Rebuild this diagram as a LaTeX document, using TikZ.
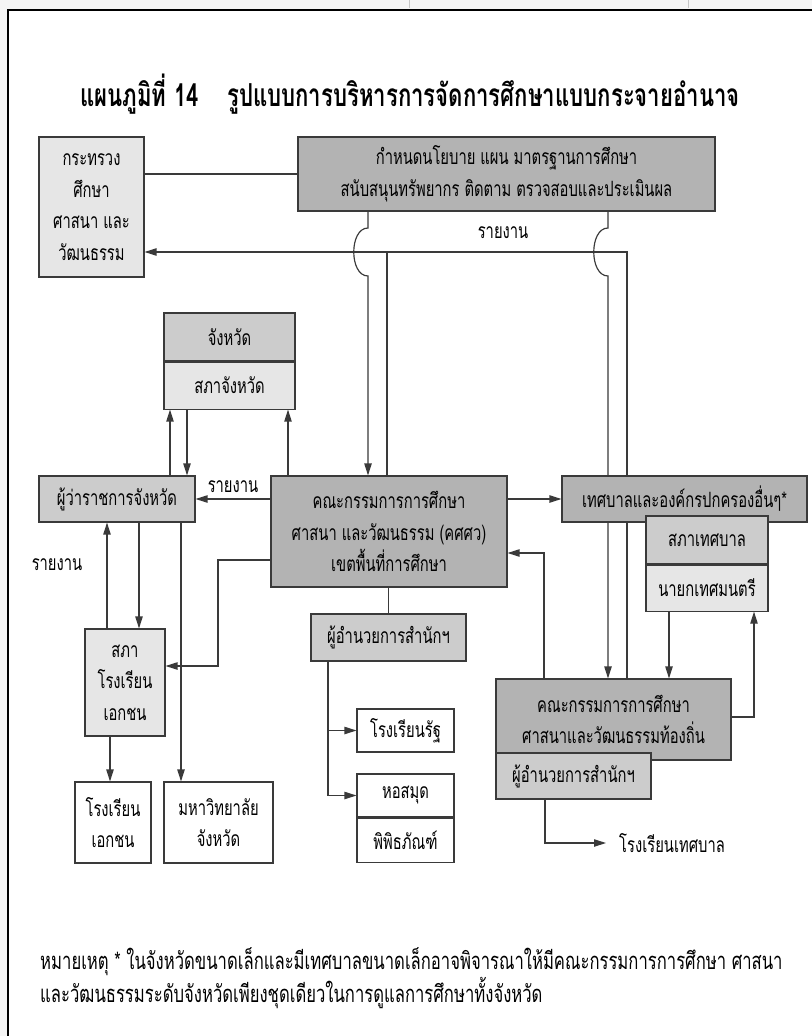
\documentclass[tikz,border=0pt]{standalone}
\usepackage{fontspec}
\newfontfamily\thaifont[Script=Thai,FakeStretch=0.7]{Loma}
\usetikzlibrary{positioning}
\usetikzlibrary{arrows.meta}
\usetikzlibrary{calc}
\newlength\px
\setlength\px{0.3mm}
\definecolor{fillDark}{HTML}{B3B3B3}
\definecolor{fillMid}{HTML}{CCCCCC}
\definecolor{fillLight}{HTML}{E6E6E6}
\definecolor{lineGray}{HTML}{3A3A3A}
\newcommand{\bodyFont}{\thaifont\fontsize{18}{27}\selectfont}
\newcommand{\noteFont}{\thaifont\fontsize{20.3}{26}\selectfont}
\newcommand{\titleFont}{\thaifont\bfseries\fontsize{27}{30}\selectfont}
\pgfdeclarelayer{frameLayer}
\pgfdeclarelayer{lineLayer}
\pgfsetlayers{frameLayer,lineLayer,main}
\tikzset{
   boxPlain/.style={draw=lineGray, line width=0.9pt, align=center, inner sep=0pt, font=\bodyFont},
   boxDark/.style={boxPlain, fill=fillDark},
   boxMid/.style={boxPlain, fill=fillMid},
   boxLight/.style={boxPlain, fill=fillLight},
   boxWhite/.style={boxPlain, fill=white},
   labelText/.style={inner sep=0pt, font=\bodyFont},
   linePlain/.style={draw=lineGray, line width=1pt},
   lineWithArrow/.style={linePlain, -{Triangle[length=3.6mm, width=2.2mm]}},
}

\begin{document}
\begin{tikzpicture}[x=0.3mm, y=-0.3mm]
  \useasboundingbox (0,0) rectangle (812,1036);
  %
  \begin{pgfonlayer}{frameLayer}
    \fill[gray!8] (0,0) rectangle (812,1036);
    \fill[white] (8,10) rectangle (812,1036);
    \draw[gray!45] (409,0) -- (409,8);
    \draw[gray!45] (688,0) -- (688,8);
    \draw[line width=2.5pt] (8,1036) -- (8,10) -- (812,10);
  \end{pgfonlayer}
  %
  \node[font=\titleFont] (title) at (410,94) {แผนภูมิที่ 14\hspace{0.9em}รูปแบบการบริหารการจัดการศึกษาแบบกระจายอำนาจ};
  %
  \node[boxLight, minimum width=105\px, minimum height=140\px] (ministry) at (91.5,207) {กระทรวง\\ศึกษา\\ศาสนา และ\\วัฒนธรรม};
  \node[boxDark, minimum width=417\px, minimum height=74\px] (policy) at (506.5,174) {กำหนดนโยบาย แผน มาตรฐานการศึกษา\\สนับสนุนทรัพยากร ติดตาม ตรวจสอบและประเมินผล};
  %
  \node[boxMid, minimum width=131\px, minimum height=48\px] (province) at (229.5,337) {จังหวัด};
  \node[boxLight, minimum width=131\px, minimum height=47\px, below=0pt of province] (provCouncil) {สภาจังหวัด};
  \node[boxMid, minimum width=156\px, minimum height=46\px] (governor) at (117,499) {ผู้ว่าราชการจังหวัด};
  \node[boxDark, minimum width=236\px, minimum height=111\px] (central) at (389,531.5) {คณะกรรมการการศึกษา\\ศาสนา และวัฒนธรรม (คศศว)\\เขตพื้นที่การศึกษา};
  \node[boxDark, minimum width=245\px, minimum height=46\px] (municipal) at (684.5,499) {เทศบาลและองค์กรปกครองอื่นๆ*};
  \node[boxMid, minimum width=122\px, minimum height=48\px] (munCouncil) at (707,540) {สภาเทศบาล};
  \node[boxLight, minimum width=122\px, minimum height=46\px, below=0pt of munCouncil] (mayor) {นายกเทศมนตรี};
  %
  \node[boxMid, minimum width=155\px, minimum height=47\px] (director) at (388.5,637.5) {ผู้อำนวยการสำนักฯ};
  \node[boxLight, minimum width=80\px, minimum height=107\px] (schoolCouncil) at (125,682.5) {สภา\\โรงเรียน\\เอกชน};
  \node[boxDark, minimum width=235\px, minimum height=81\px] (localComm) at (613.5,719.5) {คณะกรรมการการศึกษา\\ศาสนาและวัฒนธรรมท้องถิ่น};
  \node[boxMid, minimum width=155\px, minimum height=46\px] (localDir) at (573.5,776) {ผู้อำนวยการสำนักฯ};
  %
  \node[boxWhite, minimum width=97\px, minimum height=43\px] (stateSchool) at (405.5,730.5) {โรงเรียนรัฐ};
  \node[boxWhite, minimum width=97\px, minimum height=43\px] (library) at (405.5,795.5) {หอสมุด};
  \node[boxWhite, minimum width=97\px, minimum height=44\px, below=0pt of library] (museum) {พิพิธภัณฑ์};
  \node[boxWhite, minimum width=76\px, minimum height=81\px] (privSchool) at (113,822.5) {โรงเรียน\\เอกชน};
  \node[boxWhite, minimum width=109\px, minimum height=81\px] (university) at (218.5,822.5) {มหาวิทยาลัย\\จังหวัด};
  \node[labelText, inner xsep=13\px, anchor=west] (munSchool) at (606,843) {โรงเรียนเทศบาล};
  %
  \node[labelText] (reportTop) at (503,233) {รายงาน};
  \node[labelText] (reportGov) at (233,487) {รายงาน};
  \node[labelText] (reportSchool) at (57,565) {รายงาน};
  %
  \node[labelText, font=\noteFont, align=left, anchor=west] (footNote) at (40,978) {หมายเหตุ * ในจังหวัดขนาดเล็กและมีเทศบาลขนาดเล็กอาจพิจารณาให้มีคณะกรรมการการศึกษา ศาสนา\\และวัฒนธรรมระดับจังหวัดเพียงชุดเดียวในการดูแลการศึกษาทั้งจังหวัด};
  %
  \begin{pgfonlayer}{lineLayer}
    \draw[linePlain] (ministry.east |- policy.west) -- (policy.west);
    %
    % reports back to the ministry
    \coordinate (reportRight) at (627,252);
    \coordinate (reportLeft) at (387,252);
    \draw[lineWithArrow] (localComm.north -| reportRight) -- (reportRight) -- (ministry.east |- reportRight);
    \draw[linePlain] (central.north -| reportLeft) -- (reportLeft);
    %
    % policy lines hop over the report line
    \coordinate (jumpLeft) at (368,252);
    \coordinate (jumpRight) at (608,252);
    \draw[lineWithArrow] (policy.south -| jumpLeft) -- ($(jumpLeft)+(0,-24)$) .. controls +(-19,0) and +(-19,0) .. ($(jumpLeft)+(0,24)$) -- (central.north -| jumpLeft);
    \draw[lineWithArrow] (policy.south -| jumpRight) -- ($(jumpRight)+(0,-24)$) .. controls +(-19,0) and +(-19,0) .. ($(jumpRight)+(0,24)$) -- (localComm.north -| jumpRight);
    %
    \draw[lineWithArrow] (central.west |- governor.east) -- (governor.east);
    \draw[lineWithArrow] (governor.north -| 170,0) -- (provCouncil.south -| 170,0);
    \draw[lineWithArrow] (provCouncil.south -| 187,0) -- (governor.north -| 187,0);
    \draw[lineWithArrow] (central.north -| 288,0) -- (provCouncil.south -| 288,0);
    %
    \draw[lineWithArrow] (governor.south -| 139,0) -- (schoolCouncil.north -| 139,0);
    \draw[lineWithArrow] (schoolCouncil.north -| 107,0) -- (governor.south -| 107,0);
    \draw[lineWithArrow] (governor.south -| 181,0) -- (university.north -| 181,0);
    \draw[lineWithArrow] (schoolCouncil.south -| 110,0) -- (privSchool.north -| 110,0);
    \draw[lineWithArrow] (central.west |- 0,560) -| (218,666) -- (schoolCouncil.east |- 0,666);
    %
    \draw[lineWithArrow] (central.east |- municipal.west) -- (municipal.west);
    \draw[lineWithArrow] (localComm.north -| 544,0) |- (central.east |- 0,553);
    \draw[lineWithArrow] (mayor.south -| 669,0) -- (localComm.north -| 669,0);
    \draw[lineWithArrow] (localComm.east |- 0,717) -| (mayor.south -| 754,0);
    %
    \draw[linePlain] (central.south -| director.north) -- (director.north);
    \draw[lineWithArrow] (director.south -| 328,0) |- (library.west);
    \draw[lineWithArrow] (stateSchool.west -| 328,0) -- (stateSchool.west);
    \draw[lineWithArrow] (localDir.south -| 545,0) |- (munSchool.west);
  \end{pgfonlayer}
\end{tikzpicture}
\end{document}
